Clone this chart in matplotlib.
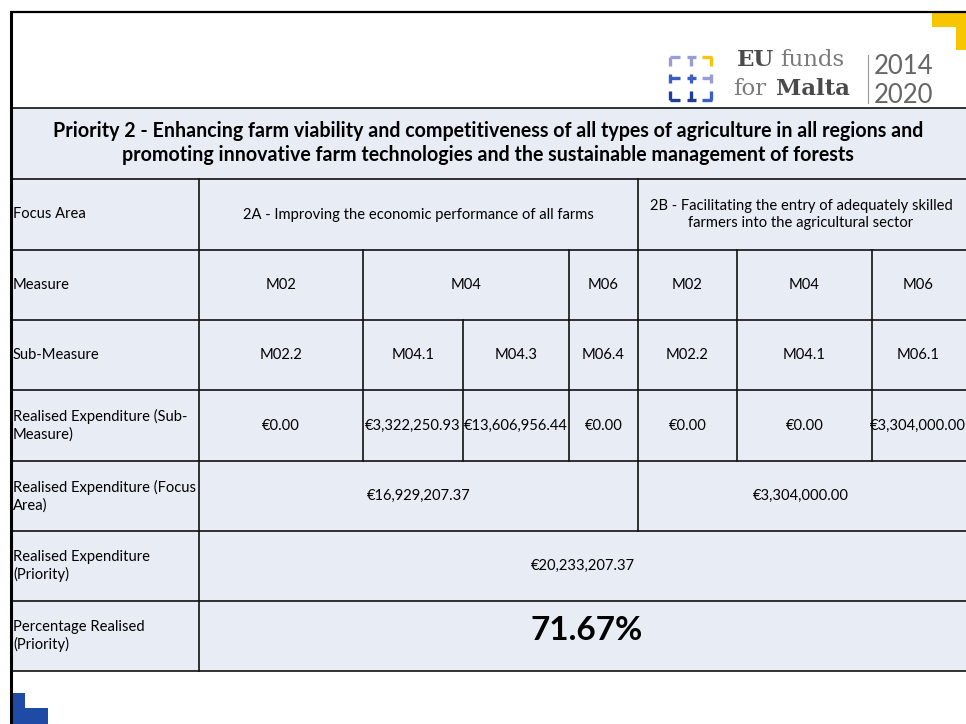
import matplotlib
matplotlib.use("Agg")
import matplotlib.pyplot as plt
from matplotlib.patches import Rectangle

# ---------------- data ----------------
title_lines = [
    "Priority 2 - Enhancing farm viability and competitiveness of all types of agriculture in all regions and",
    "promoting innovative farm technologies and the sustainable management of forests",
]
row_labels = [
    "Focus Area",
    "Measure",
    "Sub-Measure",
    "Realised Expenditure (Sub-\nMeasure)",
    "Realised Expenditure (Focus\nArea)",
    "Realised Expenditure\n(Priority)",
    "Percentage Realised\n(Priority)",
]
focus_areas = [
    "2A - Improving the economic performance of all farms",
    "2B - Facilitating the entry of adequately skilled\nfarmers into the agricultural sector",
]
measures = ["M02", "M04", "M06", "M02", "M04", "M06"]
sub_measures = ["M02.2", "M04.1", "M04.3", "M06.4", "M02.2", "M04.1", "M06.1"]
sub_expenditure = ["€0.00", "€3,322,250.93", "€13,606,956.44", "€0.00",
                   "€0.00", "€0.00", "€3,304,000.00"]
focus_expenditure = ["€16,929,207.37", "€3,304,000.00"]
priority_expenditure = "€20,233,207.37"
percentage_realised = "71.67%"

# ---------------- layout (pixels) ----------------
W, H = 966, 724
FONT = "Lato"
fill = "#E8ECF4"

fig = plt.figure(figsize=(W / 100, H / 100), dpi=100)
ax = fig.add_axes([0, 0, 1, 1])
ax.set_xlim(0, W)
ax.set_ylim(H, 0)
ax.axis("off")
fig.patch.set_facecolor("white")

sub_x = [199, 363, 463, 569, 638, 737, 872, 964]
measure_x = [199, 363, 569, 638, 737, 872, 964]
focus_x = [199, 638, 964]
row_y = [108, 179, 250, 320, 390, 461, 531, 601, 671]
left_x = 12
right_x = 966

ax.add_patch(Rectangle((left_x, row_y[0]), right_x - left_x, row_y[-1] - row_y[0],
                       facecolor=fill, edgecolor="none", zorder=0))

lw = 1.2
col = "#111111"
for y in row_y:
    ax.plot([left_x, right_x], [y, y], color=col, lw=lw, zorder=2, solid_capstyle="butt")
ax.plot([199, 199], [row_y[1], row_y[-1]], color=col, lw=lw, zorder=2)
ax.plot([638, 638], [row_y[1], row_y[2]], color=col, lw=lw, zorder=2)
for x in measure_x[1:-1]:
    ax.plot([x, x], [row_y[2], row_y[3]], color=col, lw=lw, zorder=2)
for x in sub_x[1:-1]:
    ax.plot([x, x], [row_y[3], row_y[5]], color=col, lw=lw, zorder=2)
ax.plot([638, 638], [row_y[5], row_y[6]], color=col, lw=lw, zorder=2)

fs = 10.6
def ctext(x, y, s, **kw):
    kw.setdefault("fontsize", fs)
    ax.text(x, y, s, ha="center", va="center", family=FONT, color="black",
            zorder=3, linespacing=1.3, **kw)

# title
ctext((left_x + right_x) / 2 - 1, 131, title_lines[0], fontsize=14.1, fontweight="bold")
ctext((left_x + right_x) / 2 - 1, 155, title_lines[1], fontsize=14.1, fontweight="bold")

# row labels
for i, lab in enumerate(row_labels):
    yc = (row_y[i + 1] + row_y[i + 2]) / 2
    ax.text(left_x + 1, yc, lab, ha="left", va="center", family=FONT, fontsize=fs,
            color="black", zorder=3, linespacing=1.3)

def mid(a, b):
    return (a + b) / 2

for i, fa in enumerate(focus_areas):
    ctext(mid(focus_x[i], focus_x[i + 1]), mid(row_y[1], row_y[2]), fa)
for i, m in enumerate(measures):
    ctext(mid(measure_x[i], measure_x[i + 1]), mid(row_y[2], row_y[3]), m)
for i, (s, e) in enumerate(zip(sub_measures, sub_expenditure)):
    xc = mid(sub_x[i], sub_x[i + 1])
    ctext(xc, mid(row_y[3], row_y[4]), s)
    ctext(xc, mid(row_y[4], row_y[5]), e)
for i, fe in enumerate(focus_expenditure):
    ctext(mid(focus_x[i], focus_x[i + 1]), mid(row_y[5], row_y[6]), fe)
ctext(mid(199, right_x), mid(row_y[6], row_y[7]), priority_expenditure)
ctext(mid(199, right_x) + 4, mid(row_y[7], row_y[8]) - 6, percentage_realised,
      fontsize=24, fontweight="bold")

# ---------------- slide decorations ----------------
ax.plot([10, W], [12, 12], color="black", lw=1.6, zorder=4, solid_capstyle="butt")
ax.plot([11, 11], [11, H], color="black", lw=2.2, zorder=4, solid_capstyle="butt")

yellow = "#F7C600"
ax.add_patch(Rectangle((932, 13), W - 932, 14, facecolor=yellow, edgecolor="none", zorder=3))
ax.add_patch(Rectangle((956, 13), W - 956, 37, facecolor=yellow, edgecolor="none", zorder=3))

blue = "#1F4AA6"
ax.add_patch(Rectangle((12, 693), 13, H - 693, facecolor=blue, edgecolor="none", zorder=3))
ax.add_patch(Rectangle((12, 708), 36, H - 708, facecolor=blue, edgecolor="none", zorder=3))

lav = "#9A9CD8"
mblue = "#3E5DC2"
dblue = "#1F3C9A"
ix, iy, cs = 668, 55, 15.5
lwi = 2.4
def seg(x0, y0, x1, y1, c):
    ax.plot([ix + x0 * cs, ix + x1 * cs], [iy + y0 * cs, iy + y1 * cs], color=c,
            lw=lwi, solid_capstyle="butt", zorder=4)
seg(0.1, 0.1, 0.8, 0.1, lav); seg(0.15, 0.1, 0.15, 0.7, lav)
seg(1.2, 0.1, 1.8, 0.1, lav); seg(1.5, 0.1, 1.5, 0.7, lav)
seg(2.2, 0.1, 2.85, 0.1, yellow); seg(2.8, 0.1, 2.8, 0.7, yellow)
seg(0.15, 1.2, 0.15, 1.8, mblue); seg(0.15, 1.5, 0.8, 1.5, mblue)
seg(1.2, 1.5, 1.8, 1.5, mblue); seg(1.5, 1.2, 1.5, 1.8, mblue)
seg(2.8, 1.2, 2.8, 1.8, lav); seg(2.2, 1.5, 2.8, 1.5, lav)
seg(0.15, 2.3, 0.15, 2.9, dblue); seg(0.1, 2.9, 0.8, 2.9, dblue)
seg(1.2, 2.9, 1.8, 2.9, dblue); seg(1.5, 2.3, 1.5, 2.9, dblue)
seg(2.8, 2.3, 2.8, 2.9, mblue); seg(2.2, 2.9, 2.85, 2.9, mblue)

ax.text(737, 66, "EU", family="DejaVu Serif", fontweight="bold", fontsize=16.5,
        color="#4a4a4a", ha="left", va="baseline", zorder=4)
ax.text(780, 66, "funds", family="DejaVu Serif", fontsize=16.5, color="#7a7a7a",
        ha="left", va="baseline", zorder=4)
ax.text(733, 95, "for", family="DejaVu Serif", fontsize=16.5, color="#7a7a7a",
        ha="left", va="baseline", zorder=4)
ax.text(776, 95, "Malta", family="DejaVu Serif", fontweight="bold", fontsize=16.5,
        color="#4a4a4a", ha="left", va="baseline", zorder=4)
ax.plot([868, 868], [55, 103], color="#999999", lw=0.8, zorder=4)
ax.text(874, 74, "2014", family=FONT, fontsize=18.5, color="#666666",
        ha="left", va="baseline", zorder=4)
ax.text(874, 103, "2020", family=FONT, fontsize=18.5, color="#666666",
        ha="left", va="baseline", zorder=4)

fig.savefig("out.png", dpi=100, facecolor="white")
